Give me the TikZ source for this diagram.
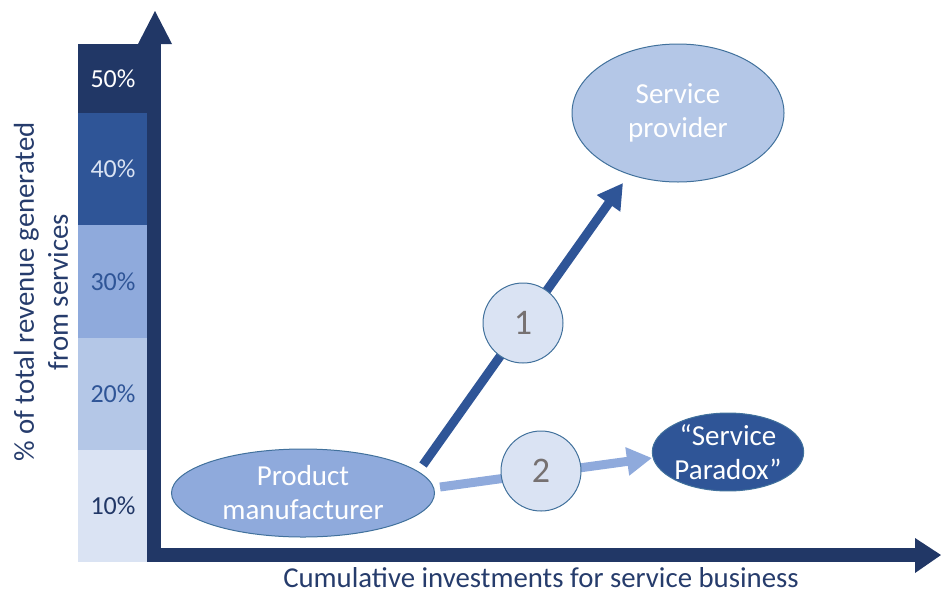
\documentclass[tikz,border=0pt]{standalone}
\usepackage{fontspec}
\setmainfont{Carlito}
\usetikzlibrary{shapes.geometric,arrows.meta,calc}

\definecolor{navy}{RGB}{33,55,102}
\definecolor{labelc}{RGB}{38,60,108}
\definecolor{blueD}{RGB}{47,85,151}
\definecolor{blueM}{RGB}{143,170,220}
\definecolor{blueL}{RGB}{180,199,231}
\definecolor{blueXL}{RGB}{218,227,243}
\definecolor{outl}{RGB}{65,113,156}
\definecolor{numgray}{RGB}{118,113,113}

\tikzset{
  band/.style={rectangle, inner sep=0pt, minimum width=70pt,
    font=\fontsize{26}{30}\selectfont},
  stage/.style={ellipse, draw=outl, line width=1pt, inner sep=0pt,
    align=center, text=white, font=\fontsize{29}{34}\selectfont},
  numbadge/.style={circle, draw=outl, line width=1pt, fill=blueXL,
    minimum size=80pt, inner sep=0pt, text=numgray,
    font=\fontsize{36}{40}\selectfont},
  pathA/.style={draw=blueD, line width=9pt,
    -{Triangle[length=25pt,width=27pt]}},
  pathB/.style={draw=blueM, line width=9pt,
    -{Triangle[length=25pt,width=27pt]}},
  axislabel/.style={text=labelc, inner sep=0pt, font=\fontsize{28.8}{34}\selectfont}
}

\begin{document}
\begin{tikzpicture}[x=1pt,y=-1pt]
\useasboundingbox (0,0) rectangle (941,595);

% revenue share bands
\node[band, fill=navy, text=white, minimum height=69pt] (b50) at (113,78.5) {50\%};
\node[band, fill=blueD, text=blueXL, minimum height=112pt] (b40) at (113,169) {40\%};
\node[band, fill=blueM, text=blueD, minimum height=113pt] (b30) at (113,281.5) {30\%};
\node[band, fill=blueL, text=blueD, minimum height=112pt] (b20) at (113,394) {20\%};
\node[band, fill=blueXL, text=navy, minimum height=112pt] (b10) at (113,506) {10\%};

% axes
\fill[navy] (147,44) rectangle (161,562);
\fill[navy] (138,44) -- (155,11) -- (172,44) -- cycle;
\fill[navy] (147,548) rectangle (915,562);
\fill[navy] (915,538) -- (941,555) -- (915,573) -- cycle;

% axis titles
\node[axislabel, anchor=base, text depth=0pt] (xl) at (541,587)
  {Cumulative investments for service business};
\node[axislabel, rotate=90, align=center] (yl) at (41,292)
  {\% of total revenue generated\\from services};

% company types
\node[stage, fill=blueM, minimum width=263pt, minimum height=88pt] (pm) at (303,493)
  {Product\\manufacturer};
\node[stage, fill=blueL, minimum width=212pt, minimum height=138pt] (sp) at (678,113)
  {Service\\provider};
\node[stage, fill=blueD, minimum width=146pt, minimum height=70pt] (par) at (728,452)
  {“Service\\Paradox”};

% transition paths
\draw[pathA] ($(pm.center)+(120,-28)$) -- ($(sp.center)+(-55,70)$);
\draw[pathB] ($(pm.center)+(137,-6)$) -- ($(par.center)+(-76,6)$);

\node[numbadge] (c1) at (523,323) {1};
\node[numbadge] (c2) at (541,471) {2};
\end{tikzpicture}
\end{document}
